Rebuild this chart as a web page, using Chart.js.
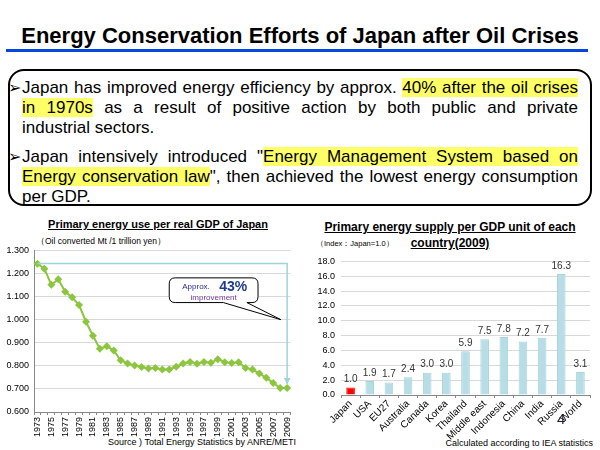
<!DOCTYPE html>
<html><head><meta charset="utf-8">
<script src="https://cdn.jsdelivr.net/npm/chart.js"></script>
<style>
body{margin:0;width:600px;height:450px;position:relative;background:#fff;font-family:"Liberation Sans",Arial,sans-serif;overflow:hidden;color:#000}
.abs{position:absolute}
#title{left:0;width:600px;top:23px;text-align:center;font-weight:bold;font-size:22px;white-space:nowrap}
#rule{left:6px;width:582px;top:49px;height:3px;background:#0645e0}
#box{left:8px;top:69px;width:580px;height:133px;border:2px solid #000;border-radius:16px}
.p{position:absolute;left:22px;width:556px;font-size:17px;line-height:20px}
.p div{text-align:justify;text-align-last:justify}
.p div.last{text-align-last:left}
.p .b{position:absolute;left:-14px;top:0px;font-family:"DejaVu Sans";font-size:16px}
.hl{background:#ffff66}
.ct{font-weight:bold;text-decoration:underline;text-align:center;white-space:nowrap}
.sm{font-size:9px;white-space:nowrap}
canvas{position:absolute}
</style></head><body>
<div id="title" class="abs">Energy Conservation Efforts of Japan after Oil Crises</div>
<div id="rule" class="abs"></div>
<div id="box" class="abs"></div>
<div class="p" style="top:78px"><span class="b">➢</span>
<div>Japan has improved energy efficiency by approx. <span class="hl">40% after the oil crises</span></div>
<div><span class="hl">in 1970s</span> as a result of positive action by both public and private</div>
<div class="last">industrial sectors.</div></div>
<div class="p" style="top:147px"><span class="b">➢</span>
<div>Japan intensively introduced "<span class="hl">Energy Management System based on</span></div>
<div><span class="hl">Energy conservation law</span>", then achieved the lowest energy consumption</div>
<div class="last">per GDP.</div></div>

<div class="abs ct" style="left:8px;width:300px;top:218px;font-size:11px">Primary energy use per real GDP of Japan</div>
<div class="abs sm" style="left:36px;top:236px;font-size:8.5px">（Oil converted Mt /1 trillion yen）</div>
<div class="abs sm" style="left:100px;width:196px;text-align:right;top:437px;font-size:9px">Source ) Total Energy Statistics by ANRE/METI</div>

<div class="abs ct" style="left:300px;width:300px;top:219px;font-size:12px;line-height:16px">Primary energy supply per GDP unit of each<br>country(2009)</div>
<div class="abs sm" style="left:316px;top:239px;font-size:7.5px">（Index：Japan=1.0）</div>
<div class="abs sm" style="left:390px;width:203px;text-align:right;top:438px;font-size:9px">Calculated according to IEA statistics</div>

<canvas id="c1" style="left:0;top:240px;width:300px;height:210px" width="300" height="210"></canvas>
<canvas id="c2" style="left:300px;top:250px;width:300px;height:200px" width="300" height="200"></canvas>
<div class="abs" style="left:557px;top:410px;font-size:15px;color:#1a1a3a">4</div>

<script>
const years = ["1973","1974","1975","1976","1977","1978","1979","1980","1981","1982","1983","1984","1985","1986","1987","1988","1989","1990","1991","1992","1993","1994","1995","1996","1997","1998","1999","2000","2001","2002","2003","2004","2005","2006","2007","2008","2009"];
const energyPerGDP = [1.242,1.221,1.151,1.175,1.121,1.097,1.063,0.991,0.930,0.874,0.885,0.866,0.824,0.810,0.801,0.795,0.788,0.791,0.784,0.784,0.796,0.810,0.817,0.809,0.817,0.813,0.829,0.816,0.812,0.815,0.791,0.784,0.767,0.748,0.726,0.704,0.704];
const leftTicks = {min:0.6, max:1.3, step:0.1};

const countries = ["Japan","USA","EU27","Australia","Canada","Korea","Thailand","Middle east","Indonesia","China","India","Russia","World"];
const supplyIndex = [1.0,1.9,1.7,2.4,3.0,3.0,5.9,7.5,7.8,7.2,7.7,16.3,3.1];
const rightTicks = {min:0, max:18, step:2};

// annotation anchors (data units: category index, value)
const bracketLevel = 1.243;
const callout = {x0:19.0, x1:31.8, yTop:1.181, yBot:1.074, tailA:26.8, tailB:30.2, tipX:35.1, tipY:1.0};

const FONT = "'Liberation Sans', Arial, sans-serif";
Chart.defaults.font.family = FONT;
Chart.defaults.color = '#000';
Chart.defaults.animation = false;

const annot = {
  id:'annot',
  afterDatasetsDraw(chart){
    const {ctx, scales:{x,y}} = chart;
    ctx.save();
    const xl = x.getPixelForValue(0), xr = x.getPixelForValue(years.length-1);
    const yt = y.getPixelForValue(bracketLevel), yb = y.getPixelForValue(energyPerGDP[energyPerGDP.length-1]) - 4;
    ctx.strokeStyle = '#9fd4dc'; ctx.lineWidth = 1.5;
    ctx.beginPath(); ctx.moveTo(xl, yt); ctx.lineTo(xr, yt); ctx.lineTo(xr, yb); ctx.stroke();
    ctx.fillStyle = '#9fd4dc';
    ctx.beginPath(); ctx.moveTo(xr-3.5, yb-6); ctx.lineTo(xr+3.5, yb-6); ctx.lineTo(xr, yb); ctx.closePath(); ctx.fill();
    const bx0 = x.getPixelForValue(callout.x0), bx1 = x.getPixelForValue(callout.x1);
    const by0 = y.getPixelForValue(callout.yTop), by1 = y.getPixelForValue(callout.yBot);
    const ta = x.getPixelForValue(callout.tailA), tb = x.getPixelForValue(callout.tailB);
    const tx = x.getPixelForValue(callout.tipX), ty = y.getPixelForValue(callout.tipY);
    const r = 6;
    ctx.strokeStyle = '#000'; ctx.lineWidth = 1; ctx.fillStyle = '#fff';
    ctx.beginPath();
    ctx.moveTo(bx0+r, by0); ctx.lineTo(bx1-r, by0); ctx.quadraticCurveTo(bx1, by0, bx1, by0+r);
    ctx.lineTo(bx1, by1-r); ctx.quadraticCurveTo(bx1, by1, bx1-r, by1);
    ctx.lineTo(tb, by1); ctx.lineTo(tx, ty); ctx.lineTo(ta, by1);
    ctx.lineTo(bx0+r, by1); ctx.quadraticCurveTo(bx0, by1, bx0, by1-r);
    ctx.lineTo(bx0, by0+r); ctx.quadraticCurveTo(bx0, by0, bx0+r, by0);
    ctx.closePath(); ctx.fill(); ctx.stroke();
    const cx = (bx0+bx1)/2;
    ctx.textBaseline = 'alphabetic';
    ctx.font = "8px "+FONT; ctx.fillStyle = '#2a2a9a'; ctx.textAlign='left';
    ctx.fillText('Approx.', bx0+13, by0+11);
    ctx.font = "bold 14px "+FONT; ctx.fillStyle = '#1f3a93';
    ctx.fillText('43%', bx0+50, by0+13);
    ctx.font = "8px "+FONT; ctx.fillStyle = '#7030a0'; ctx.textAlign='center';
    ctx.fillText('improvement', cx, by0+22);
    ctx.restore();
  }
};

new Chart(document.getElementById('c1'), {
  type:'line',
  data:{labels:years, datasets:[{data:energyPerGDP, borderColor:'#8cc63e', backgroundColor:'#8cc63e', borderWidth:2, pointStyle:'rectRot', pointRadius:4, pointBorderWidth:0, tension:0}]},
  options:{
    responsive:false, devicePixelRatio:1,
    layout:{padding:{left:0,right:4,top:9,bottom:0}},
    plugins:{legend:{display:false}, tooltip:{enabled:false}},
    scales:{
      x:{offset:true, grid:{display:true, drawOnChartArea:false, offset:true, tickLength:3, color:'#888'}, border:{color:'#888'},
         ticks:{autoSkip:false, minRotation:90, maxRotation:90, font:{size:9}, padding:2, callback:(v,i)=> i%2===0 ? years[i] : ''},
         afterFit(s){ s.height = 38; }},
      y:{min:leftTicks.min, max:leftTicks.max, grid:{color:'#d9d9d9', drawTicks:false}, border:{color:'#888'},
         ticks:{stepSize:leftTicks.step, font:{size:9}, padding:5, callback:v=>Number(v).toFixed(3)},
         afterFit(s){ s.width = 34; }}
    }
  },
  plugins:[annot]
});

const barLabels = {
  id:'barLabels',
  afterDatasetsDraw(chart){
    const {ctx} = chart; const meta = chart.getDatasetMeta(0);
    ctx.save(); ctx.font = "10px "+FONT; ctx.fillStyle = '#333'; ctx.textAlign='center'; ctx.textBaseline='bottom';
    meta.data.forEach((el,i)=>{ ctx.fillText(supplyIndex[i].toFixed(1), el.x, el.y-3); });
    ctx.restore();
  }
};

new Chart(document.getElementById('c2'), {
  type:'bar',
  data:{labels:countries, datasets:[{data:supplyIndex,
    backgroundColor:countries.map((c,i)=> i===0 ? '#ff0000' : '#b7dee6'),
    borderColor:countries.map((c,i)=> i===0 ? '#ff0000' : '#a6d3dc'), borderWidth:1,
    barPercentage:0.45, categoryPercentage:1}]},
  options:{
    responsive:false, devicePixelRatio:1,
    layout:{padding:{left:0,right:10,top:9,bottom:0}},
    plugins:{legend:{display:false}, tooltip:{enabled:false}},
    scales:{
      x:{grid:{display:true, drawOnChartArea:false, tickLength:3, color:'#888'}, border:{color:'#888'},
         ticks:{autoSkip:false, minRotation:45, maxRotation:45, font:{size:10}, padding:0},
         afterFit(s){ s.height = 55; }},
      y:{min:rightTicks.min, max:rightTicks.max, grid:{color:'#d9d9d9', drawTicks:false}, border:{display:false},
         ticks:{stepSize:rightTicks.step, font:{size:9}, padding:6, callback:v=>Number(v).toFixed(1)},
         afterFit(s){ s.width = 41; }}
    }
  },
  plugins:[barLabels]
});
</script>
</body></html>
